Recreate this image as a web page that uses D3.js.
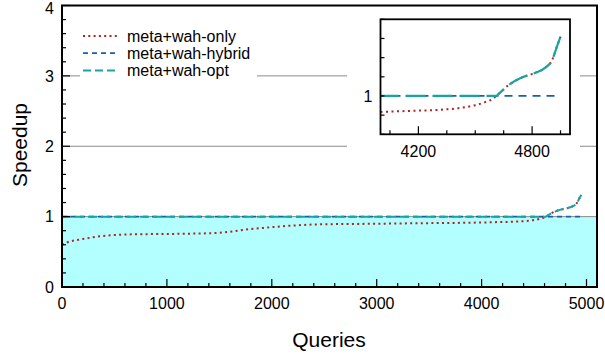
<!DOCTYPE html>
<html>
<head>
<meta charset="utf-8">
<script src="https://cdn.jsdelivr.net/npm/d3@7"></script>
<style>
  body { margin: 0; background: #fff; }
  svg { display: block; }
  text { font-family: "Liberation Sans", Arial, Helvetica, sans-serif; fill: #000; }
</style>
</head>
<body>
<svg id="chart" width="605" height="356"></svg>
<script>
// ---- data ----
const queries = [0, 60, 155, 270, 360, 520, 730, 890, 1140, 1440, 1600, 1760, 1920, 2080, 2330, 2630, 2950, 3270, 3520, 3820, 4010, 4150, 4330, 4410, 4500, 4555, 4600, 4610, 4625, 4675, 4745, 4815, 4870, 4905, 4930, 4950];
const wahOnly = [0.60, 0.64, 0.67, 0.70, 0.72, 0.74, 0.75, 0.752, 0.756, 0.766, 0.785, 0.818, 0.84, 0.86, 0.884, 0.894, 0.898, 0.904, 0.908, 0.912, 0.917, 0.922, 0.929, 0.936, 0.952, 0.969, 0.99, 1.0, 1.012, 1.056, 1.096, 1.12, 1.148, 1.186, 1.255, 1.31];
const wahOpt  = [1, 1, 1, 1, 1, 1, 1, 1, 1, 1, 1, 1, 1, 1, 1, 1, 1, 1, 1, 1, 1, 1, 1, 1, 1, 1, 1, 1.0, 1.012, 1.056, 1.096, 1.12, 1.148, 1.186, 1.255, 1.31];
const hybridQueries = [0, 4945];
const wahHybrid = [1, 1];
const seriesNames = ["meta+wah-only", "meta+wah-hybrid", "meta+wah-opt"];
const mainXTicks = [0, 1000, 2000, 3000, 4000, 5000];
const mainYTicks = [0, 1, 2, 3, 4];
const gridValues = [1, 2, 3];
const insetXTicks = [4200, 4800];
const insetYTicks = [1];

// ---- styles ----
const colors = { only: "#b0231c", hybrid: "#1d5ea8", opt: "#1ba3a3" };
const svg = d3.select("#chart");

// ---- main scales ----
const x = d3.scaleLinear().domain([0, 5100]).range([62, 597]);
const y = d3.scaleLinear().domain([0, 4]).range([287, 5.5]);

// fill under 1
svg.append("rect")
  .attr("x", x(0)).attr("y", y(1))
  .attr("width", x(5100) - x(0)).attr("height", y(0) - y(1))
  .attr("fill", "#b3ffff");

// gridlines
svg.append("g").selectAll("line").data(gridValues).join("line")
  .attr("x1", x(0)).attr("x2", x(5100))
  .attr("y1", d => y(d)).attr("y2", d => y(d))
  .attr("stroke", "#8a8a8a").attr("stroke-width", 1);

// legend background & inset background (white)
svg.append("rect").attr("x", 80).attr("y", 18).attr("width", 177).attr("height", 66).attr("fill", "#fff");
svg.append("rect").attr("x", 347).attr("y", 8).attr("width", 233).attr("height", 158).attr("fill", "#fff");

// series data
const onlyData = queries.map((q, i) => ({ q, v: wahOnly[i] }));
const optData = queries.map((q, i) => ({ q, v: wahOpt[i] }));
const hybridData = hybridQueries.map((q, i) => ({ q, v: wahHybrid[i] }));

function drawSeries(g, xs, ys, dash, clipId) {
  const line = d3.line().x(d => xs(d.q)).y(d => ys(d.v)).curve(d3.curveMonotoneX);
  const grp = g.append("g");
  if (clipId) grp.attr("clip-path", `url(#${clipId})`);
  grp.append("path").datum(hybridData).attr("d", line).attr("fill", "none")
    .attr("stroke", colors.hybrid).attr("stroke-width", dash.hw).attr("stroke-dasharray", dash.hybrid);
  grp.append("path").datum(onlyData).attr("d", line).attr("fill", "none")
    .attr("stroke", colors.only).attr("stroke-width", dash.ow).attr("stroke-dasharray", dash.only);
  grp.append("path").datum(optData).attr("d", line).attr("fill", "none")
    .attr("stroke", colors.opt).attr("stroke-width", dash.tw).attr("stroke-dasharray", dash.opt);
}

drawSeries(svg, x, y, { hybrid: "5,4", only: "2,3.3", opt: "9,4", hw: 1.8, ow: 2, tw: 2 });

// main axes
const gx = svg.append("g").attr("transform", `translate(0,${y(0)})`);
gx.selectAll(".mt").data(d3.range(0, 5001, 200)).join("line")
  .attr("x1", d => x(d)).attr("x2", d => x(d))
  .attr("y1", 0).attr("y2", d => d % 1000 === 0 ? -8 : -4)
  .attr("stroke", "#000").attr("stroke-width", 1.2);
gx.selectAll(".lbl").data(mainXTicks).join("text")
  .attr("x", d => x(d)).attr("y", 22).attr("text-anchor", "middle")
  .style("font-size", "16px").text(d => d);

const gy = svg.append("g").attr("transform", `translate(${x(0)},0)`);
gy.selectAll(".mt").data(d3.range(0, 4.01, 0.2)).join("line")
  .attr("x1", 0).attr("x2", d => Math.abs(d - Math.round(d)) < 1e-6 ? 8 : 4)
  .attr("y1", d => y(d)).attr("y2", d => y(d))
  .attr("stroke", "#000").attr("stroke-width", 1.2);
gy.selectAll(".lbl").data(mainYTicks).join("text")
  .attr("x", -8).attr("y", d => Math.max(y(d), 8)).attr("dy", "0.36em").attr("text-anchor", "end")
  .style("font-size", "16px").text(d => d);

// frame
svg.append("rect").attr("x", x(0)).attr("y", y(4)).attr("width", x(5100) - x(0)).attr("height", y(0) - y(4))
  .attr("fill", "none").attr("stroke", "#000").attr("stroke-width", 2);

// axis titles
svg.append("text").attr("x", 329).attr("y", 347).attr("text-anchor", "middle")
  .style("font-size", "21px").text("Queries");
svg.append("text").attr("transform", "translate(27,145) rotate(-90)").attr("text-anchor", "middle")
  .style("font-size", "21px").text("Speedup");

// legend
const legend = svg.append("g");
const legendDash = [
  { name: seriesNames[0], color: colors.only, dash: "2,3.3", w: 2 },
  { name: seriesNames[1], color: colors.hybrid, dash: "5,4", w: 1.8 },
  { name: seriesNames[2], color: colors.opt, dash: "8,4", w: 2 }
];
legendDash.forEach((d, i) => {
  const yy = 36 + i * 17.2;
  legend.append("line").attr("x1", 83).attr("x2", 119).attr("y1", yy).attr("y2", yy)
    .attr("stroke", d.color).attr("stroke-width", d.w).attr("stroke-dasharray", d.dash);
  legend.append("text").attr("x", 127).attr("y", yy).attr("dy", "0.36em")
    .style("font-size", "16px").text(d.name);
});

// ---- inset ----
const xi = d3.scaleLinear().domain([4000, 5000]).range([380.5, 570]);
const yi = d3.scaleLinear().domain([0.8, 1.4]).range([134.3, 19.3]);
svg.append("clipPath").attr("id", "insetClip").append("rect")
  .attr("x", xi(4000)).attr("y", yi(1.4)).attr("width", xi(5000) - xi(4000)).attr("height", yi(0.8) - yi(1.4));
drawSeries(svg, xi, yi, { hybrid: "8,6", only: "2,3.5", opt: "20,7", hw: 1.8, ow: 2, tw: 2.2 }, "insetClip");

const ix = svg.append("g");
ix.selectAll("line").data(d3.range(4050, 5000, 150)).join("line")
  .attr("x1", d => xi(d)).attr("x2", d => xi(d))
  .attr("y1", yi(0.8)).attr("y2", d => insetXTicks.includes(d) ? yi(0.8) - 8 : yi(0.8) - 4)
  .attr("stroke", "#000").attr("stroke-width", 1.2);
ix.selectAll("text").data(insetXTicks).join("text")
  .attr("x", d => xi(d)).attr("y", yi(0.8) + 23).attr("text-anchor", "middle")
  .style("font-size", "16px").text(d => d);
const iy = svg.append("g");
iy.selectAll("line").data(d3.range(0.8, 1.41, 0.1)).join("line")
  .attr("x1", xi(4000)).attr("x2", d => xi(4000) + 4)
  .attr("y1", d => yi(d)).attr("y2", d => yi(d))
  .attr("stroke", "#000").attr("stroke-width", 1.2);
iy.selectAll("text").data(insetYTicks).join("text")
  .attr("x", xi(4000) - 8).attr("y", d => yi(d)).attr("dy", "0.36em").attr("text-anchor", "end")
  .style("font-size", "16px").text(d => d);
svg.append("rect").attr("x", xi(4000)).attr("y", yi(1.4)).attr("width", xi(5000) - xi(4000)).attr("height", yi(0.8) - yi(1.4))
  .attr("fill", "none").attr("stroke", "#000").attr("stroke-width", 1.8);
</script>
</body>
</html>
